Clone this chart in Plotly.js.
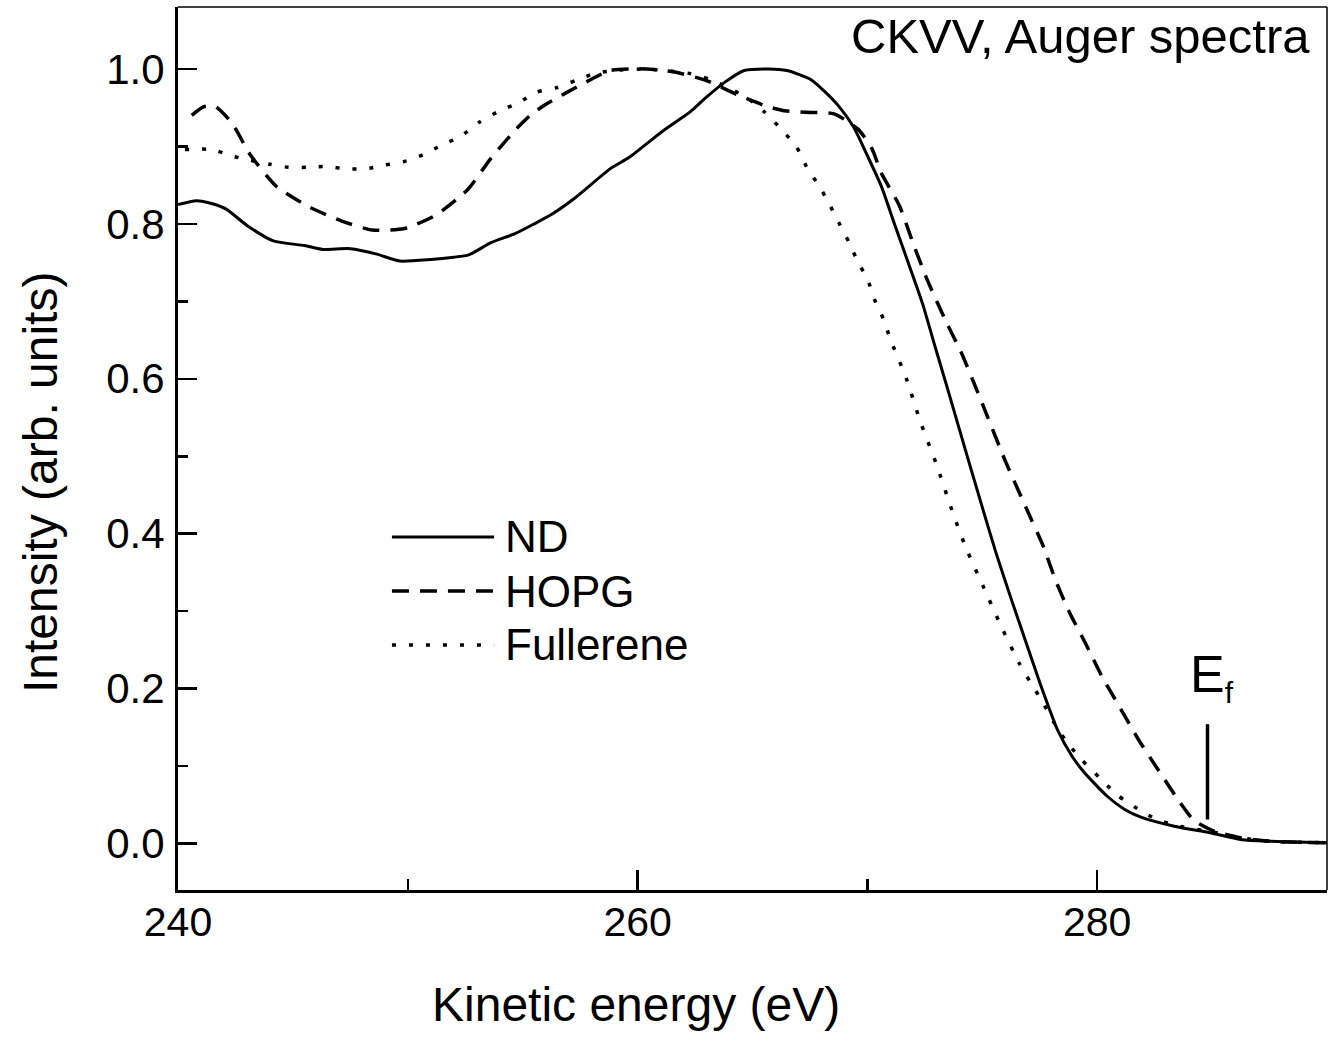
<!DOCTYPE html>
<html>
<head>
<meta charset="utf-8">
<script src="https://cdn.plot.ly/plotly-3.0.1.min.js"></script>
<style>html,body{margin:0;padding:0;background:#fff;}#chart{width:1333px;height:1037px;}</style>
</head>
<body>
<div id="chart"></div>
<script>
// ND (solid)
const ndX = [240.0,240.8,241.5,242.1,243.0,244.15,245.5,246.3,247.5,248.65,249.65,251.0,252.0,252.65,253.64,254.64,255.5,256.3,257.3,258.8,259.64,261.1,262.3,262.97,263.8,264.64,265.7,266.5,267.5,268.1,268.75,269.4,270.0,270.6,271.2,271.8,272.4,272.95,273.5,274.0,274.93,275.6,276.3,276.9,277.5,278.3,278.9,279.4,280.4,281.2,281.9,283.4,284.9,286.3,287.5,290.0];
const ndY = [0.825,0.830,0.826,0.819,0.798,0.778,0.772,0.767,0.768,0.761,0.752,0.754,0.757,0.760,0.776,0.787,0.800,0.813,0.834,0.871,0.886,0.920,0.945,0.963,0.983,0.998,1.000,0.998,0.987,0.972,0.952,0.925,0.888,0.849,0.798,0.748,0.697,0.641,0.586,0.535,0.441,0.375,0.312,0.260,0.208,0.145,0.113,0.093,0.062,0.044,0.034,0.022,0.014,0.005,0.003,0.001];

// HOPG (dashed)
const hopgX = [240.6,241.1,241.6,242.35,243.15,244.3,245.7,247.1,248.45,249.85,251.2,252.6,253.6,254.7,255.4,256.1,257.5,258.8,260.4,261.6,263.0,264.4,265.6,266.4,267.3,268.55,269.6,270.2,270.6,271.4,272.0,272.6,273.45,274.07,275.0,276.0,277.11,277.65,278.2,278.8,279.5,280.2,280.96,281.8,282.7,283.6,284.2,285.0,286.3,287.5,290.0];
const hopgY = [0.940,0.951,0.952,0.930,0.889,0.848,0.822,0.804,0.792,0.794,0.811,0.844,0.884,0.922,0.942,0.956,0.979,0.998,1.000,0.996,0.985,0.966,0.952,0.946,0.944,0.942,0.922,0.897,0.866,0.823,0.774,0.728,0.672,0.635,0.568,0.494,0.420,0.384,0.339,0.298,0.258,0.216,0.177,0.134,0.093,0.053,0.030,0.017,0.007,0.003,0.001];

// Fullerene (dotted)
const fulX = [240.3,241.5,242.3,243.15,244.0,244.8,245.65,246.5,247.3,248.15,249.0,249.8,250.65,251.5,252.3,253.1,254.0,254.8,255.6,256.5,257.3,258.1,258.97,260.3,261.5,262.3,263.1,264.0,264.8,265.5,266.1,266.9,267.4,267.9,268.3,268.75,269.2,269.6,270.0,270.3,270.7,271.0,271.7,272.3,273.0,273.67,274.3,275.04,275.8,276.6,277.1,277.6,278.1,278.65,279.3,280.1,280.9,281.75,282.6,283.6,285.0,286.3,287.5,290.0];
const fulY = [0.896,0.896,0.888,0.882,0.877,0.873,0.873,0.874,0.871,0.871,0.876,0.880,0.889,0.902,0.913,0.931,0.946,0.956,0.970,0.976,0.985,0.994,0.998,1.000,0.997,0.994,0.987,0.975,0.962,0.945,0.927,0.900,0.871,0.849,0.828,0.802,0.776,0.750,0.729,0.703,0.677,0.651,0.600,0.545,0.490,0.431,0.381,0.332,0.282,0.233,0.208,0.184,0.157,0.132,0.109,0.085,0.062,0.045,0.031,0.022,0.015,0.007,0.003,0.001];

// Fermi level marker
const efX = [284.8, 284.8];
const efY = [0.031, 0.154];

const seriesNames = ['ND', 'HOPG', 'Fullerene'];
const xTicks = [240, 260, 280];
const yTicks = [0.0, 0.2, 0.4, 0.6, 0.8, 1.0];
const yTickText = ['0.0', '0.2', '0.4', '0.6', '0.8', '1.0'];
const xTitle = 'Kinetic energy (eV)';
const yTitle = 'Intensity (arb. units)';
const chartLabel = 'CKVV, Auger spectra';

const FONT = 'Liberation Sans, Arial, Helvetica, sans-serif';

const traces = [
  {x: ndX, y: ndY, name: seriesNames[0], mode: 'lines', line: {color: '#000', width: 3, shape: 'spline', smoothing: 0.6}},
  {x: hopgX, y: hopgY, name: seriesNames[1], mode: 'lines', line: {color: '#000', width: 3.5, dash: '17px,11px', shape: 'spline', smoothing: 0.6}},
  {x: fulX, y: fulY, name: seriesNames[2], mode: 'lines', line: {color: '#000', width: 3.5, dash: '4px,13px', shape: 'spline', smoothing: 0.6}},
  {x: efX, y: efY, name: 'Ef', mode: 'lines', line: {color: '#000', width: 3.5}, showlegend: false}
];

// legend drawn as sample lines + text in paper space
const legY = [0.3998, 0.3386, 0.2775];
const legDash = ['solid', '17px,11px', '4px,13px'];
const shapes = [
  {type: 'line', xref: 'paper', yref: 'paper', x0: 0, x1: 1, y0: 1, y1: 1, line: {color: '#000', width: 1.5}},
  {type: 'line', xref: 'paper', yref: 'paper', x0: 1, x1: 1, y0: 0, y1: 1, line: {color: '#000', width: 1.5}}
];
const annotations = [
  {xref: 'paper', yref: 'paper', x: 0.987, y: 1.0, xanchor: 'right', yanchor: 'top', showarrow: false,
   text: chartLabel, font: {family: FONT, size: 49, color: '#000'}},
  {xref: 'x', yref: 'y', x: 285.0, y: 0.215, xanchor: 'center', yanchor: 'middle', showarrow: false,
   text: 'E<sub><span style="font-size:30px">f</span></sub>', font: {family: FONT, size: 52, color: '#000'}},
  {xref: 'paper', yref: 'paper', x: 0.3986, y: -0.1302, xanchor: 'center', yanchor: 'middle', showarrow: false,
   text: xTitle, font: {family: FONT, size: 48, color: '#000'}},
  {xref: 'paper', yref: 'paper', x: -0.1201, y: 0.462, xanchor: 'center', yanchor: 'middle', showarrow: false,
   textangle: -90, text: yTitle, font: {family: FONT, size: 48, color: '#000'}}
];
seriesNames.forEach((n, i) => {
  shapes.push({type: 'line', xref: 'paper', yref: 'paper', x0: 0.1862, x1: 0.2751, y0: legY[i], y1: legY[i],
    line: {color: '#000', width: i === 0 ? 3 : 3.5, dash: legDash[i]}});
  annotations.push({xref: 'paper', yref: 'paper', x: 0.2829, y: legY[i], xanchor: 'left', yanchor: 'middle',
    showarrow: false, text: n, font: {family: FONT, size: 44, color: '#000'}});
});

const layout = {
  width: 1333, height: 1037,
  margin: {l: 178, r: 6, t: 7, b: 147, pad: 0},
  paper_bgcolor: '#fff', plot_bgcolor: '#fff',
  showlegend: false,
  font: {family: FONT, color: '#000'},
  xaxis: {
    range: [240, 290], tickvals: xTicks, ticktext: xTicks.map(String),
    ticks: 'inside', ticklen: 20, tickwidth: 2.5, tickcolor: '#000',
    minor: {dtick: 10, tick0: 240, ticks: 'inside', ticklen: 11, tickwidth: 2.5, tickcolor: '#000'},
    showline: true, linewidth: 3, linecolor: '#000', mirror: false,
    showgrid: false, zeroline: false,
    tickfont: {family: FONT, size: 41, color: '#000'},
    ticklabelstandoff: -6
  },
  yaxis: {
    range: [-0.06, 1.08], tickvals: yTicks, ticktext: yTickText,
    ticks: 'inside', ticklen: 19, tickwidth: 2.5, tickcolor: '#000',
    minor: {dtick: 0.1, tick0: 0, ticks: 'inside', ticklen: 10, tickwidth: 2.5, tickcolor: '#000'},
    showline: true, linewidth: 3, linecolor: '#000', mirror: false,
    showgrid: false, zeroline: false,
    tickfont: {family: FONT, size: 42, color: '#000'},
    ticklabelstandoff: 2
  },
  shapes: shapes,
  annotations: annotations
};

Plotly.newPlot('chart', traces, layout, {staticPlot: true, displayModeBar: false});
</script>
</body>
</html>
